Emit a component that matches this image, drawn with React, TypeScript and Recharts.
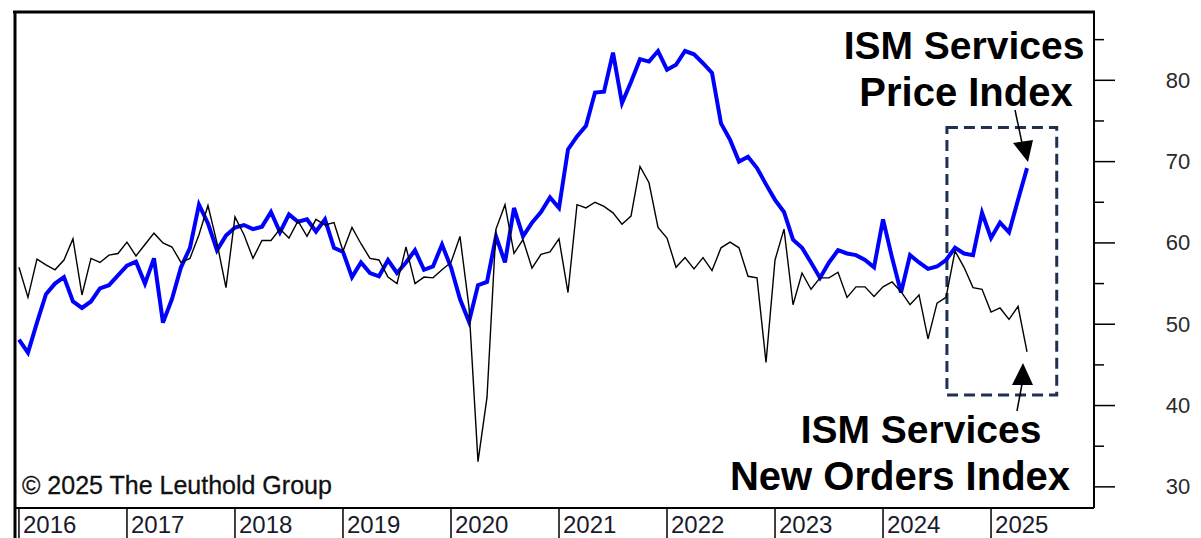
import React from "react";
import { LineChart, Line, XAxis, YAxis, ReferenceArea } from "recharts";

const yearLabels: string[] = ["2016", "2017", "2018", "2019", "2020", "2021", "2022", "2023", "2024", "2025"];
const monthNames: string[] = ["Jan", "Feb", "Mar", "Apr", "May", "Jun", "Jul", "Aug", "Sep", "Oct", "Nov", "Dec"];

// ISM Services Price Index, monthly Jan 2016 - May 2025
const priceIndex: number[] = [
  48.1, 46.5, 50.2, 53.7, 55.0, 55.8, 52.8, 52.0, 52.8, 54.4, 54.8, 56.0,
  57.2, 57.7, 55.0, 58.1, 50.2, 53.1, 57.0, 59.4, 64.7, 62.4, 59.1, 60.9,
  61.9, 62.2, 61.7, 62.0, 63.8, 61.3, 63.5, 62.6, 62.9, 61.4, 62.9, 59.4,
  58.9, 55.8, 57.6, 56.3, 55.9, 57.9, 56.3, 57.6, 59.1, 56.7, 57.1, 59.8,
  57.0, 53.1, 50.3, 54.8, 55.2, 60.8, 57.6, 64.3, 60.8, 62.5, 63.8, 65.6,
  64.3, 71.5, 73.1, 74.4, 78.5, 78.6, 83.4, 77.2, 79.8, 82.6, 82.3, 83.6,
  81.3, 81.9, 83.6, 83.2, 82.1, 80.9, 74.7, 72.7, 70.0, 70.6, 69.2, 67.2,
  65.3, 63.8, 60.4, 59.4, 57.6, 55.7, 57.6, 59.1, 58.7, 58.5, 57.9, 57.0,
  62.9, 58.2, 53.9, 58.5, 57.6, 56.8, 57.1, 57.9, 59.4, 58.7, 58.5, 63.7,
  60.6, 62.5, 61.3, 65.3, 69.2,
];

// ISM Services New Orders Index, monthly Jan 2016 - May 2025
const newOrdersIndex: number[] = [
  57.0, 53.3, 58.0, 57.3, 56.7, 57.9, 60.5, 53.6, 58.1, 57.6, 58.5, 58.7,
  60.1, 58.4, 59.8, 61.2, 60.0, 59.5, 57.6, 58.1, 61.0, 64.6, 60.0, 54.5,
  63.2, 61.0, 58.1, 60.3, 60.3, 61.7, 60.6, 62.7, 60.8, 62.9, 62.2, 62.5,
  59.0, 61.9, 59.9, 58.1, 57.9, 55.8, 55.0, 59.5, 55.0, 55.8, 55.7, 56.7,
  57.6, 60.8, 52.1, 33.1, 41.0, 61.7, 64.7, 58.7, 60.4, 56.9, 58.6, 58.9,
  60.5, 53.9, 64.7, 64.3, 65.0, 64.5, 63.7, 62.3, 63.3, 69.4, 67.4, 61.9,
  60.6, 57.0, 58.2, 56.8, 58.2, 56.6, 59.4, 60.1, 59.4, 55.9, 55.7, 45.3,
  57.9, 61.7, 52.4, 56.3, 54.3, 55.7, 55.7, 56.4, 53.3, 54.6, 54.6, 53.4,
  54.6, 55.2, 54.0, 52.4, 53.6, 48.2, 52.6, 53.3, 59.0, 57.0, 54.5, 54.3,
  51.5, 52.0, 50.6, 52.2, 46.6,
];

const yTicks: number[] = [30, 35, 40, 45, 50, 55, 60, 65, 70, 75, 80, 85];

const months: string[] = priceIndex.map(
  (_, i) => `${monthNames[i % 12]} ${yearLabels[Math.floor(i / 12)]}`
);

const data = months.map((m, i) => ({
  i,
  month: m,
  price: priceIndex[i],
  orders: newOrdersIndex[i],
}));

const FONT = "'Liberation Sans', Arial, sans-serif";

const XTick = (props: any) => {
  const { x, y, payload } = props;
  const k = Math.round(payload.value / 12);
  return (
    <g>
      <line x1={x} x2={x} y1={y} y2={y + 32} stroke="#000" strokeWidth={1.5} />
      <text x={x + 4} y={y + 25} fontSize={24} fontFamily={FONT} fill="#1a1a2a">
        {yearLabels[k]}
      </text>
    </g>
  );
};

const YTick = (props: any) => {
  const { x, y, payload } = props;
  const major = payload.value % 10 === 0;
  return (
    <g>
      <line x1={x} x2={x + (major ? 21 : 10)} y1={y} y2={y} stroke="#000" strokeWidth={1.5} />
      {major && (
        <text
          x={x + 84}
          y={y}
          textAnchor="middle"
          dominantBaseline="central"
          fontSize={22}
          fontFamily={FONT}
          fill="#2a2a2a"
        >
          {payload.value}
        </text>
      )}
    </g>
  );
};

export default function App() {
  return (
    <div style={{ position: "absolute", left: 0, top: 0, width: 1201, height: 538, background: "#fff" }}>
      <LineChart
        width={1201}
        height={538}
        data={data}
        margin={{ top: 12, left: 15, right: 0, bottom: 0 }}
      >
        <XAxis
          type="number"
          dataKey="i"
          domain={[-0.44, 119.44]}
          ticks={yearLabels.map((_, k) => k * 12)}
          interval={0}
          height={30}
          tickSize={0}
          tickMargin={0}
          tickLine={false}
          tick={<XTick />}
          axisLine={{ stroke: "#000", strokeWidth: 2 }}
          allowDataOverflow
        />
        <YAxis
          orientation="right"
          domain={[27.4, 88.4]}
          ticks={yTicks}
          interval={0}
          width={107}
          tickSize={0}
          tickMargin={0}
          tickLine={false}
          tick={<YTick />}
          axisLine={{ stroke: "#000", strokeWidth: 2 }}
          allowDataOverflow
        />
        <Line
          type="linear"
          dataKey="price"
          stroke="#0000ff"
          strokeWidth={4}
          dot={false}
          isAnimationActive={false}
        />
        <Line
          type="linear"
          dataKey="orders"
          stroke="#000"
          strokeWidth={1.4}
          dot={false}
          isAnimationActive={false}
        />
        <ReferenceArea
          x1={103.1}
          x2={115.3}
          y1={41.3}
          y2={74.2}
          fill="none"
          fillOpacity={0}
          stroke="#1f3050"
          strokeWidth={3}
          strokeDasharray="11 6"
          ifOverflow="visible"
        />
      </LineChart>
      <svg
        width={1201}
        height={538}
        style={{ position: "absolute", left: 0, top: 0, pointerEvents: "none" }}
      >
        <line x1={13} x2={1095} y1={12} y2={12} stroke="#000" strokeWidth={3} />
        <line x1={15} x2={15} y1={11} y2={538} stroke="#000" strokeWidth={3} />
        <g fontFamily={FONT} fontWeight="bold" fill="#000" textAnchor="middle">
          <text x={964} y={59} fontSize={39}>ISM Services</text>
          <text x={966} y={106} fontSize={40}>Price Index</text>
          <text x={921} y={443} fontSize={39}>ISM Services</text>
          <text x={900} y={490} fontSize={40}>New Orders Index</text>
        </g>
        <text x={22} y={494} fontFamily={FONT} fontSize={25} fill="#111" stroke="#111" strokeWidth={0.3}>
          © 2025 The Leuthold Group
        </text>
        <line x1={1015} y1={110} x2={1022} y2={143} stroke="#000" strokeWidth={1.5} />
        <polygon points="1013,143 1033,140 1028,162" fill="#000" />
        <line x1={1022} y1={384} x2={1017} y2={411} stroke="#000" strokeWidth={1.5} />
        <polygon points="1023,363 1012,385 1033,385" fill="#000" />
      </svg>
    </div>
  );
}
